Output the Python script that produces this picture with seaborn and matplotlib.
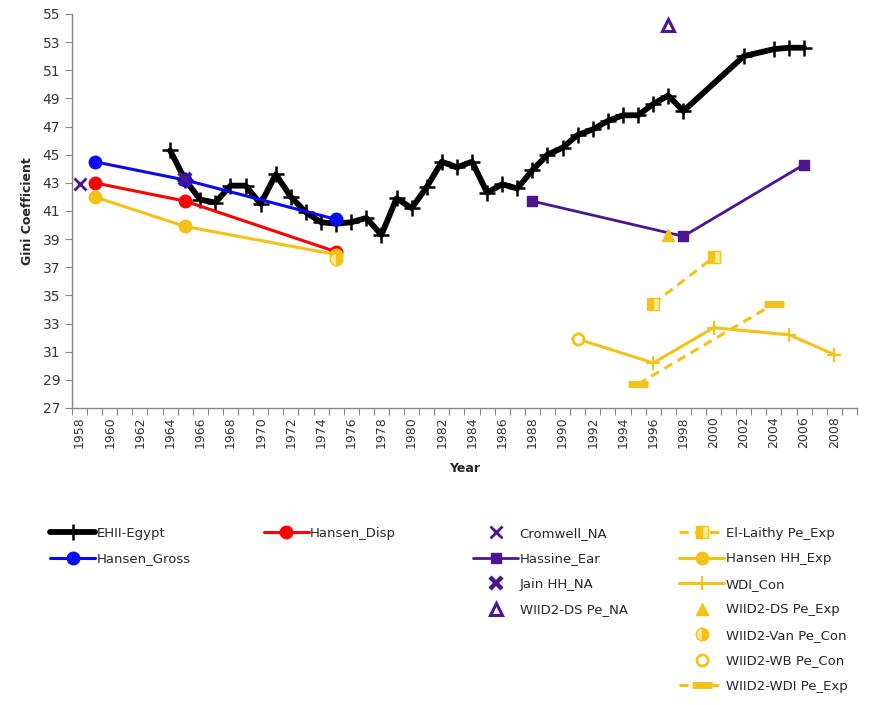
import matplotlib
matplotlib.use("Agg")
import matplotlib.pyplot as plt
from matplotlib.lines import Line2D
import numpy as np
import seaborn as sns

sns.set_style("white")
plt.rcParams['font.family'] = ['DejaVu Sans']

# --- data ---
ehii_years = [1964, 1965, 1966, 1967, 1968, 1969, 1970, 1971, 1972, 1973, 1974, 1975,
              1976, 1977, 1978, 1979, 1980, 1981, 1982, 1983, 1984, 1985, 1986, 1987,
              1988, 1989, 1990, 1991, 1992, 1993, 1994, 1995, 1996, 1997, 1998, 2002,
              2004, 2005, 2006]
ehii_gini = [45.3, 43.2, 41.8, 41.6, 42.8, 42.8, 41.5, 43.6, 42.0, 40.9, 40.2, 40.1,
             40.2, 40.5, 39.3, 41.9, 41.2, 42.7, 44.5, 44.1, 44.5, 42.3, 42.9, 42.6,
             43.9, 45.0, 45.5, 46.4, 46.8, 47.4, 47.8, 47.8, 48.6, 49.2, 48.1, 52.0,
             52.5, 52.6, 52.6]

hansen_years = [1959, 1965, 1975]
hansen_disp = [43.0, 41.7, 38.1]
hansen_gross = [44.5, 43.2, 40.4]
hansen_hh_exp = [42.0, 39.9, 37.9]

cromwell_years = [1958]
cromwell_na = [42.9]

jain_years = [1965]
jain_hh_na = [43.3]

hassine_years = [1988, 1998, 2006]
hassine_ear = [41.7, 39.2, 44.3]

el_laithy_years = [1996, 2000]
el_laithy_exp = [34.4, 37.7]

wdi_con_years = [1991, 1996, 2000, 2005, 2008]
wdi_con = [31.9, 30.2, 32.7, 32.2, 30.8]

wiid_ds_na_years = [1997]
wiid_ds_na = [54.2]

wiid_ds_exp_years = [1997]
wiid_ds_exp = [39.3]

wiid_van_years = [1975]
wiid_van_con = [37.6]

wiid_wb_years = [1991]
wiid_wb_con = [31.9]

wiid_wdi_years = [1995, 2004]
wiid_wdi_exp = [28.7, 34.4]

BLACK = '#000000'
RED = '#ff0000'
BLUE = '#0a0af0'
GOLD = '#f2c21b'
GOLD_LIGHT = '#fbe9a0'
PURPLE = '#4b1590'

fig = plt.figure(figsize=(8.8, 7.05), dpi=100)
ax = fig.add_axes([0.0818, 0.4213, 0.892, 0.5589])

# series, in drawing order
series = [
    dict(x=ehii_years, y=ehii_gini, label='EHII-Egypt', color=BLACK, lw=4.2,
         marker='+', ms=11, mew=1.8),
    dict(x=hansen_years, y=hansen_disp, label='Hansen_Disp', color=RED, lw=2.2,
         marker='o', ms=9),
    dict(x=hansen_years, y=hansen_gross, label='Hansen_Gross', color=BLUE, lw=2.2,
         marker='o', ms=9),
    dict(x=cromwell_years, y=cromwell_na, label='Cromwell_NA', color=PURPLE, lw=0,
         marker='x', ms=9, mew=2),
    dict(x=el_laithy_years, y=el_laithy_exp, label='El-Laithy Pe_Exp', color=GOLD, lw=2.2,
         ls=(0, (3, 2)), marker='s', ms=8, mfc=GOLD, mfcalt=GOLD_LIGHT, fs='left'),
    dict(x=hassine_years, y=hassine_ear, label='Hassine_Ear', color=PURPLE, lw=2.0,
         marker='s', ms=7),
    dict(x=hansen_years, y=hansen_hh_exp, label='Hansen HH_Exp', color=GOLD, lw=2.2,
         marker='o', ms=9),
    dict(x=jain_years, y=jain_hh_na, label='Jain HH_NA', color=PURPLE, lw=0,
         marker='x', ms=9, mew=3.2),
    dict(x=wdi_con_years, y=wdi_con, label='WDI_Con', color=GOLD, lw=2.2,
         marker='+', ms=10, mew=1.5),
    dict(x=wiid_ds_na_years, y=wiid_ds_na, label='WIID2-DS Pe_NA', color=PURPLE, lw=0,
         marker='^', ms=8, mew=2.2, mfc='white'),
    dict(x=wiid_ds_exp_years, y=wiid_ds_exp, label='WIID2-DS Pe_Exp', color=GOLD, lw=0,
         marker='^', ms=8),
    dict(x=wiid_van_years, y=wiid_van_con, label='WIID2-Van Pe_Con', color=GOLD, lw=0,
         marker='o', ms=9, mfc=GOLD, mfcalt=GOLD_LIGHT, fs='right'),
    dict(x=wiid_wb_years, y=wiid_wb_con, label='WIID2-WB Pe_Con', color=GOLD, lw=0,
         marker='o', ms=8, mew=2, mfc='white'),
    dict(x=wiid_wdi_years, y=wiid_wdi_exp, label='WIID2-WDI Pe_Exp', color=GOLD, lw=2.2,
         ls=(0, (3, 2)), marker='_', ms=14, mew=5),
]

handles = {}
for s in series:
    kw = dict(marker=s['marker'], markersize=s['ms'], color=s['color'],
              markeredgecolor=s['color'], markerfacecolor=s.get('mfc', s['color']),
              markeredgewidth=s.get('mew', 1.0), linewidth=s['lw'],
              linestyle=s.get('ls', '-'))
    if 'fs' in s:
        kw['fillstyle'] = s['fs']
        kw['markerfacecoloralt'] = s['mfcalt']
    sns.lineplot(x=s['x'], y=s['y'], ax=ax, legend=False, label=s['label'],
                 estimator=None, sort=True, **kw)
    handles[s['label']] = Line2D([], [], **kw)

# axes styling
ax.set_ylim(27, 55)
ax.set_yticks(np.arange(27, 56, 2))
ax.set_xlim(1957.5, 2009.5)
ax.set_xticks(np.arange(1958, 2009, 2))
ax.set_xticks(np.arange(1957.5, 2010, 1), minor=True)
ax.tick_params(axis='x', which='major', length=0, labelsize=9, rotation=90, pad=6,
               colors='#333333')
ax.tick_params(axis='x', which='minor', length=5, width=0.8, color='#868686',
               direction='out', bottom=True)
ax.tick_params(axis='y', which='major', length=5, width=0.8, color='#868686',
               direction='out', left=True, labelsize=10, labelcolor='#333333')
for side in ['top', 'right']:
    ax.spines[side].set_visible(False)
for side in ['left', 'bottom']:
    ax.spines[side].set_color('#868686')
    ax.spines[side].set_linewidth(1.0)
ax.grid(False)

ax.set_xlabel('Year', fontsize=9, fontweight='bold', labelpad=10)
ax.set_ylabel('Gini Coefficient', fontsize=9, fontweight='bold', labelpad=6)

# legend blocks below the plot
leg_kw = dict(frameon=False, loc='upper left', fontsize=9.5, handlelength=3.4,
              handletextpad=0.1, labelspacing=0.95, numpoints=1, borderaxespad=0,
              borderpad=0)
blocks = [
    (['EHII-Egypt', 'Hansen_Gross'], 0.057),
    (['Hansen_Disp'], 0.300),
    (['Cromwell_NA', 'Hassine_Ear', 'Jain HH_NA', 'WIID2-DS Pe_NA'], 0.538),
    (['El-Laithy Pe_Exp', 'Hansen HH_Exp', 'WDI_Con', 'WIID2-DS Pe_Exp',
      'WIID2-Van Pe_Con', 'WIID2-WB Pe_Con', 'WIID2-WDI Pe_Exp'], 0.772),
]
for labels, x0 in blocks:
    fig.legend([handles[l] for l in labels], labels, bbox_to_anchor=(x0, 0.253),
               **leg_kw)

fig.savefig('out.png', dpi=100)
